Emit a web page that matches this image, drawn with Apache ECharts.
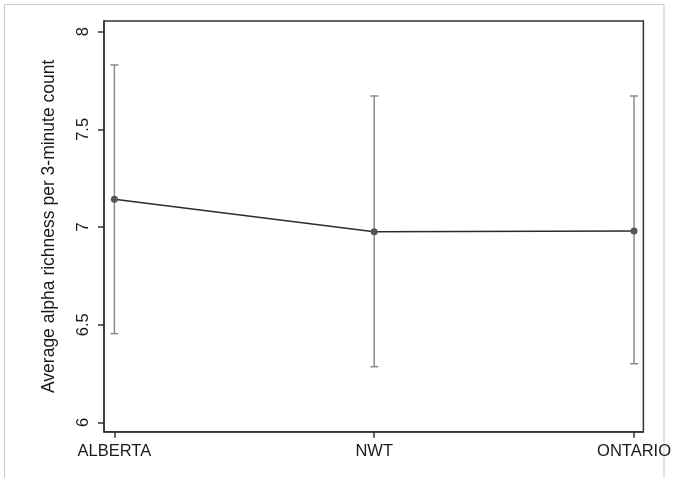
<!DOCTYPE html>
<html>
<head>
<meta charset="utf-8">
<script src="https://cdn.jsdelivr.net/npm/echarts@6/dist/echarts.min.js"></script>
<style>
html,body{margin:0;padding:0;background:#fff;}
#chart{width:674px;height:478px;}
</style>
</head>
<body>
<div id="chart"></div>
<script>
var categories = ['ALBERTA', 'NWT', 'ONTARIO'];
var means = [7.142, 6.976, 6.980];
var lowerCI = [6.454, 6.285, 6.300];
var upperCI = [7.830, 7.671, 7.671];
var yTicks = [6, 6.5, 7, 7.5, 8];
var yTitle = 'Average alpha richness per 3-minute count';

var idx = categories.map(function (c, i) { return i; });
var lineData = means.map(function (m, i) { return [i, m]; });
var errData = means.map(function (m, i) { return [i, lowerCI[i], upperCI[i]]; });

var chart = echarts.init(document.getElementById('chart'), null, {renderer: 'canvas'});
var font = '"Liberation Sans", Arial, sans-serif';

chart.setOption({
  animation: false,
  backgroundColor: '#fff',
  graphic: [{
    type: 'rect',
    shape: {x: 4.5, y: 4.5, width: 659.5, height: 490},
    style: {fill: null, stroke: '#c8c8c8', lineWidth: 1},
    silent: true,
    z: 0
  }],
  grid: {
    left: 104, top: 21, right: 26.5, bottom: 46.3,
    show: true, borderColor: '#333', borderWidth: 1.5, backgroundColor: '#fff'
  },
  xAxis: {
    type: 'value',
    min: -0.040, max: 2.036,
    splitLine: {show: false},
    axisLine: {show: true, onZero: false, lineStyle: {color: '#333', width: 1.5}},
    axisTick: {show: true, length: 6, lineStyle: {color: '#333', width: 1.5}, customValues: idx},
    axisLabel: {
      show: true, customValues: idx, margin: 11,
      color: '#1a1a1a', fontFamily: font, fontSize: 16.5,
      formatter: function (v) { return categories[Math.round(v)] || ''; }
    }
  },
  yAxis: {
    type: 'value',
    min: 5.952, max: 8.055,
    name: yTitle,
    nameLocation: 'middle',
    nameRotate: 90,
    nameGap: 46,
    nameTextStyle: {color: '#1a1a1a', fontFamily: font, fontSize: 17.5},
    splitLine: {show: false},
    axisLine: {show: true, onZero: false, lineStyle: {color: '#333', width: 1.5}},
    axisTick: {show: true, length: 6, lineStyle: {color: '#333', width: 1.5}, customValues: yTicks},
    axisLabel: {
      show: true, customValues: yTicks, rotate: 90, margin: 12,
      color: '#1a1a1a', fontFamily: font, fontSize: 16.5,
      formatter: function (v) { return String(v); }
    }
  },
  series: [{
    type: 'custom',
    data: errData,
    z: 2,
    renderItem: function (params, api) {
      var x = api.value(0);
      var lo = api.coord([x, api.value(1)]);
      var hi = api.coord([x, api.value(2)]);
      var hw = 4;
      var st = {stroke: '#8c8c8c', lineWidth: 1.5, fill: null};
      return {
        type: 'group',
        children: [
          {type: 'line', shape: {x1: lo[0], y1: lo[1], x2: hi[0], y2: hi[1]}, style: st},
          {type: 'line', shape: {x1: lo[0] - hw, y1: lo[1], x2: lo[0] + hw, y2: lo[1]}, style: st},
          {type: 'line', shape: {x1: hi[0] - hw, y1: hi[1], x2: hi[0] + hw, y2: hi[1]}, style: st}
        ]
      };
    }
  }, {
    type: 'line',
    data: lineData,
    z: 3,
    symbol: 'circle',
    symbolSize: 7,
    lineStyle: {color: '#2b2b2b', width: 1.5},
    itemStyle: {color: '#555', borderWidth: 0}
  }]
});
</script>
</body>
</html>
